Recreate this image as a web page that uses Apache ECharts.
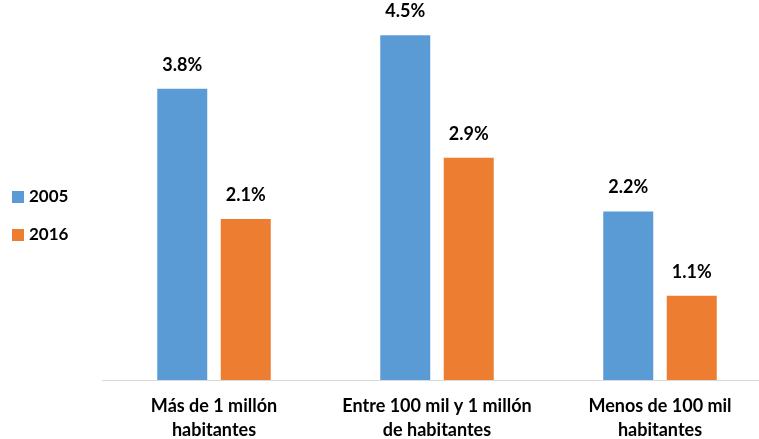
<!DOCTYPE html>
<html>
<head>
<meta charset="utf-8">
<script src="https://cdn.jsdelivr.net/npm/echarts@6/dist/echarts.min.js"></script>
<style>
  html, body { margin: 0; padding: 0; background: #fff; }
  #chart { width: 759px; height: 439px; }
</style>
</head>
<body>
<div id="chart"></div>
<script>
// Population-size groups on the x axis
const categories = ['Más de 1 millón\nhabitantes', 'Entre 100 mil y 1 millón\nde habitantes', 'Menos de 100 mil\nhabitantes'];
// Percent values per year
const values2005 = [3.8, 4.5, 2.2];
const values2016 = [2.1, 2.9, 1.1];
const seriesNames = ['2005', '2016'];

const FONT = 'Lato';

const chart = echarts.init(document.getElementById('chart'));

const labelStyle = {
  show: true,
  position: 'top',
  distance: 15,
  color: '#000',
  fontFamily: FONT,
  fontWeight: 'bold',
  fontSize: 18,
  formatter: p => p.value.toFixed(1) + '%'
};

chart.setOption({
  animation: false,
  backgroundColor: '#fff',
  legend: {
    orient: 'vertical',
    left: 7,
    top: 182,
    itemWidth: 12,
    itemHeight: 12,
    itemGap: 18,
    icon: 'rect',
    data: seriesNames,
    textStyle: { fontFamily: FONT, fontWeight: 'bold', fontSize: 17, color: '#000', lineHeight: 20 }
  },
  grid: { left: 102.5, width: 669, top: 0, height: 380, containLabel: false, outerBoundsMode: 'none' },
  xAxis: {
    type: 'category',
    data: categories,
    axisLine: { show: true, lineStyle: { color: '#d9d9d9', width: 1 } },
    axisTick: { show: false },
    axisLabel: {
      color: '#000',
      fontFamily: FONT,
      fontWeight: 'bold',
      fontSize: 18,
      lineHeight: 24,
      margin: 14,
      interval: 0
    }
  },
  yAxis: {
    type: 'value',
    min: 0,
    max: 4.96,
    show: false,
    splitLine: { show: false }
  },
  series: [
    {
      name: seriesNames[0],
      type: 'bar',
      data: values2005,
      barWidth: 50,
      barGap: '27%',
      itemStyle: { color: '#5B9BD5' },
      label: labelStyle
    },
    {
      name: seriesNames[1],
      type: 'bar',
      data: values2016,
      barWidth: 50,
      itemStyle: { color: '#ED7D31' },
      label: labelStyle
    }
  ]
});
</script>
</body>
</html>
